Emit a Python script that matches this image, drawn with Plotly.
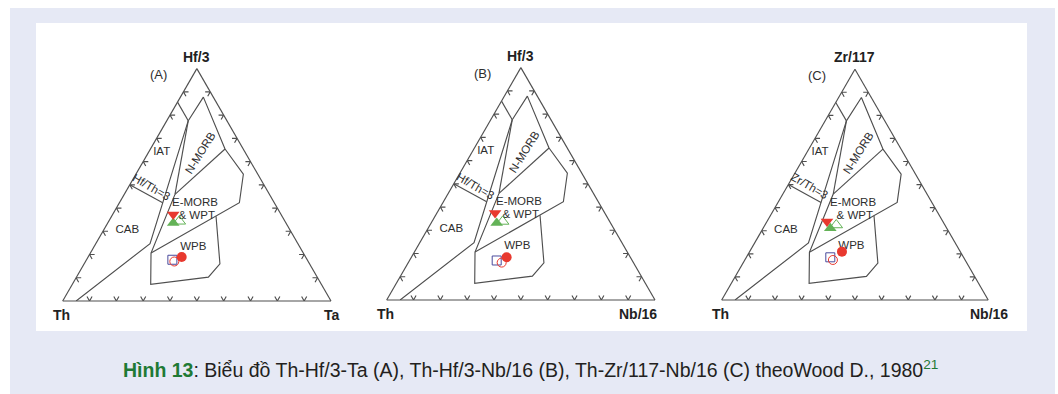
import math
import plotly.graph_objects as go

W, H = 1058, 394

# ---- panel text ----
apex_labels = ["Hf/3", "Hf/3", "Zr/117"]
left_labels = ["Th", "Th", "Th"]
right_labels = ["Ta", "Nb/16", "Nb/16"]
panel_tags = ["(A)", "(B)", "(C)"]
ratio_labels = ["Hf/Th=3", "Hf/Th=3", "Zr/Th=3"]

# ---- field boundaries, as (apex, lower-left, lower-right) fractions ----
iat_top = [(0.856, 0.144, 0.0), (0.776, 0.144, 0.080)]
arc_boundary = [(0.776, 0.144, 0.080), (0.247, 0.551, 0.202), (0.0, 0.95, 0.05)]
nmorb_top = [(0.776, 0.144, 0.080), (0.8775, 0.037, 0.0855), (0.654, 0.068, 0.278)]
nmorb_left = [(0.776, 0.144, 0.080), (0.459, 0.352, 0.189)]
nmorb_emorb = [(0.654, 0.068, 0.278), (0.459, 0.352, 0.189)]
emorb_right = [(0.654, 0.068, 0.278), (0.5455, 0.0539, 0.4006),
               (0.4228, 0.130, 0.447), (0.2064, 0.5676, 0.226)]
wpb_outline = [(0.459, 0.352, 0.189), (0.2064, 0.5676, 0.226), (0.0722, 0.636, 0.292),
               (0.1025, 0.4058, 0.4917), (0.160, 0.334, 0.506), (0.365, 0.246, 0.389)]
ratio_line = [(0.5, 0.5, 0.0), (0.4228, 0.4159, 0.1613)]
field_lines = [iat_top, arc_boundary, nmorb_top, nmorb_left, nmorb_emorb,
               emorb_right, wpb_outline, ratio_line]

field_names = ["IAT", "CAB", "E-MORB", "& WPT", "WPB"]
field_label_pos = [(0.642, 0.31, 0.048), (0.304, 0.607, 0.089), (0.42, 0.297, 0.283),
                   (0.365, 0.318, 0.317), (0.2325, 0.397, 0.3705)]
nmorb_label_pos = (0.637, 0.1695, 0.1935)
ratio_label_pos = (0.492, 0.424, 0.084)

# ---- samples per panel (A, B, C) ----
red_down = [(0.372, 0.402, 0.226), (0.374, 0.409, 0.217), (0.340, 0.435, 0.225)]
green_up = [(0.336, 0.420, 0.244), (0.331, 0.4245, 0.2445), (0.311, 0.437, 0.252)]
green_up_open = [(0.343, 0.394, 0.263), (0.338, 0.399, 0.263), (0.325, 0.4077, 0.2673)]
red_dot = [(0.189, 0.462, 0.349), (0.184, 0.461, 0.355), (0.2095, 0.444, 0.3465)]
red_ring = [(0.170, 0.499, 0.331), (0.161, 0.491, 0.348), (0.1734, 0.496, 0.3306)]
blue_square = [(0.1775, 0.5025, 0.320), (0.170, 0.505, 0.325), (0.185, 0.500, 0.315)]

tick_values = [0.1, 0.2, 0.3, 0.4, 0.5, 0.6, 0.7, 0.8, 0.9]

# ---- geometry (pixels) ----
tri_left = [62.7, 386.7, 721.7]
tri_side = [268.3, 268.3, 266.5]
tri_base = [301.0, 300.0, 300.0]
right_label_pad = [11, 4, 22]

LINE = "#4f4f4f"
TEXT = "#2e2e2e"
RED = "#e8392f"
GREEN = "#63b257"
BLUE = "#4a4a9c"
FONT = "Liberation Sans, Arial"

fig = go.Figure()


def domain(i):
    h = tri_side[i] * math.sqrt(3) / 2
    return ([tri_left[i] / W, (tri_left[i] + tri_side[i]) / W],
            [1 - tri_base[i] / H, 1 - (tri_base[i] - h) / H])


def to_paper(i, p):
    (x0, x1), (y0, y1) = domain(i)
    a, b, c = p
    s = a + b + c
    a, c = a / s, c / s
    return x0 + (c + a / 2) * (x1 - x0), y0 + a * (y1 - y0)


def line_trace(sub, pts, color=LINE, width=1.15):
    return go.Scatterternary(a=[p[0] for p in pts], b=[p[1] for p in pts],
                             c=[p[2] for p in pts], mode="lines",
                             line=dict(color=color, width=width),
                             subplot=sub, showlegend=False, hoverinfo="skip")


d = 0.019
for i in range(3):
    sub = "ternary" if i == 0 else f"ternary{i + 1}"
    for pts in field_lines:
        fig.add_trace(line_trace(sub, pts))
    # chevron ticks along each side
    ta, tb, tc = [], [], []
    for t in tick_values:
        for tri in ([(d, 1 - t - d, t), (0, 1 - t, t), (d, 1 - t, t - d)],
                    [(t, 1 - t - d, d), (t, 1 - t, 0), (t - d, 1 - t, d)],
                    [(t, d, 1 - t - d), (t, 0, 1 - t), (t - d, d, 1 - t)]):
            for p in tri:
                ta.append(p[0]); tb.append(p[1]); tc.append(p[2])
            ta.append(None); tb.append(None); tc.append(None)
    fig.add_trace(go.Scatterternary(a=ta, b=tb, c=tc, mode="lines",
                                    line=dict(color=LINE, width=1.15), subplot=sub,
                                    showlegend=False, hoverinfo="skip", connectgaps=False))
    fig.add_trace(go.Scatterternary(
        a=[p[0] for p in field_label_pos], b=[p[1] for p in field_label_pos],
        c=[p[2] for p in field_label_pos], mode="text", text=field_names,
        textfont=dict(family=FONT, size=11.5, color=TEXT),
        subplot=sub, showlegend=False, hoverinfo="skip"))

    def marker(pt, symbol, size, fill, edge, ew=1):
        fig.add_trace(go.Scatterternary(
            a=[pt[0]], b=[pt[1]], c=[pt[2]], mode="markers",
            marker=dict(symbol=symbol, size=size, color=fill,
                        line=dict(color=edge, width=ew)),
            subplot=sub, showlegend=False))

    marker(blue_square[i], "square-open", 9, BLUE, BLUE, 1)
    marker(red_ring[i], "circle-open", 9, RED, RED, 1)
    marker(red_dot[i], "circle", 10, RED, RED, 0)
    marker(green_up_open[i], "triangle-up-open", 11, GREEN, GREEN, 1)
    marker(green_up[i], "triangle-up", 11, GREEN, GREEN, 0)
    marker(red_down[i], "triangle-down", 11, RED, RED, 0)

    axis = dict(showgrid=False, showticklabels=False, ticks="", showline=True,
                linecolor=LINE, linewidth=1.15, title=dict(text=""))
    fig.update_layout(**{sub: dict(domain=dict(x=domain(i)[0], y=domain(i)[1]), sum=1,
                                   bgcolor="rgba(0,0,0,0)",
                                   aaxis=axis, baxis=axis, caxis=axis)})

    (x0, x1), (y0, y1) = domain(i)
    px = lambda v: v / W
    py = lambda v: v / H
    ann = dict(xref="paper", yref="paper", showarrow=False, yanchor="middle")
    bold = dict(family=FONT, size=14, color="#222")
    fig.add_annotation(x=(x0 + x1) / 2, y=y1 + py(12), text=f"<b>{apex_labels[i]}</b>",
                       xanchor="center", font=bold, **ann)
    fig.add_annotation(x=x0 - px(1), y=y0 - py(14), text=f"<b>{left_labels[i]}</b>",
                       xanchor="center", font=bold, **ann)
    fig.add_annotation(x=x1 + px(right_label_pad[i]), y=y0 - py(14),
                       text=f"<b>{right_labels[i]}</b>", xanchor="right", font=bold, **ann)
    fig.add_annotation(x=x0 + px(95.5), y=y1 - py(6), text=panel_tags[i],
                       xanchor="center", font=dict(family=FONT, size=13, color=TEXT), **ann)
    nx, ny = to_paper(i, nmorb_label_pos)
    fig.add_annotation(x=nx, y=ny, text="N-MORB", textangle=-58, xanchor="center",
                       font=dict(family=FONT, size=11.5, color=TEXT), **ann)
    rx, ry = to_paper(i, ratio_label_pos)
    fig.add_annotation(x=rx, y=ry, text=ratio_labels[i], textangle=30, xanchor="center",
                       font=dict(family=FONT, size=11.5, color=TEXT), **ann)

caption = ("<b><span style='color:#1f7a35'>Hình 13</span></b>: Biểu đồ Th-Hf/3-Ta (A), "
           "Th-Hf/3-Nb/16 (B), Th-Zr/117-Nb/16 (C) theoWood D., 1980"
           "<span style='color:#1f7a35'><sup>21</sup></span>")
fig.add_annotation(xref="paper", yref="paper", x=530 / W, y=1 - 369 / H, text=caption,
                   showarrow=False, xanchor="center", yanchor="middle",
                   font=dict(family=FONT, size=19.5, color="#231f20"))

fig.update_layout(
    width=W, height=H, margin=dict(l=0, r=0, t=0, b=0),
    paper_bgcolor="white", plot_bgcolor="white",
    shapes=[
        dict(type="rect", xref="paper", yref="paper", layer="below",
             x0=10 / W, x1=1055 / W, y0=0, y1=1 - 8 / H,
             fillcolor="#e6e9f5", line=dict(width=0)),
        dict(type="rect", xref="paper", yref="paper", layer="below",
             x0=36 / W, x1=1027 / W, y0=1 - 331 / H, y1=1 - 23 / H,
             fillcolor="white", line=dict(width=0)),
    ],
)

fig.write_html("out.html")
